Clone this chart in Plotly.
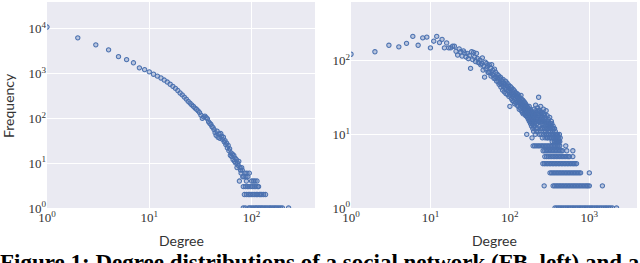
import plotly.graph_objects as go
import math

# ---------------- data ----------------
# Left panel (FB): frequency for degree 1..82
left_counts_head = [11000, 6300, 4400, 3400, 2400, 2050, 1750, 1350, 1230, 1100,
                    970, 880, 800, 720, 650, 580, 520, 470, 420, 370,
                    335, 300, 270, 240, 220, 200, 185, 170, 160, 148,
                    135, 118, 100, 108, 112, 104, 98, 84, 78, 74,
                    66, 62, 56, 48, 42, 52, 38, 45, 36, 46,
                    40, 34, 38, 30, 32, 26, 28, 22, 25, 19,
                    21, 15, 17, 14, 16, 12, 15, 11, 13, 10,
                    12, 8, 10, 9, 11, 4, 8, 7, 6, 8,
                    7, 5]
# Left panel tail: degrees having a given small frequency
left_tail = {
    6: [86, 90, 95],
    5: [84, 88, 92],
    4: [89, 100, 104, 108, 113],
    3: [83, 87, 91, 94, 98, 102, 106, 110, 115, 117],
    2: [85, 89, 93, 96, 99, 103, 107, 111, 114, 119, 122, 126, 131, 137],
    1: [83, 87, 94, 97, 101, 105, 109, 112, 116, 120, 124, 128, 133, 138,
        143, 149, 154, 160, 166, 172, 178, 185, 192, 200, 230],
}

# Right panel: frequency for degree 1..200
right_counts_head = [123, 133, 163, 155, 173, 215, 163, 205, 210, 150,
                     185, 215, 177, 196, 150, 175, 150, 150, 158, 158,
                     135, 120, 145, 133, 116, 137, 128, 113, 126, 107,
                     118, 79, 133, 104, 130, 112, 98, 126, 108, 95,
                     94, 102, 88, 92, 110, 75, 85, 60, 96, 78,
                     92, 83, 70, 69, 88, 71, 80, 62, 89, 66,
                     74, 64, 58, 77, 58, 70, 60, 53, 66, 57,
                     52, 63, 48, 58, 50, 60, 44, 55, 47, 52,
                     40, 56, 45, 50, 38, 48, 42, 53, 36, 46,
                     41, 50, 35, 44, 39, 47, 33, 42, 37, 24,
                     45, 34, 40, 31, 43, 36, 29, 38, 33, 41,
                     28, 35, 30, 39, 26, 34, 31, 37, 27, 33,
                     29, 36, 25, 32, 28, 35, 24, 30, 27, 33,
                     22, 29, 26, 31, 23, 28, 25, 34, 21, 27,
                     24, 30, 20, 26, 23, 29, 19, 25, 22, 28,
                     20, 24, 21, 27, 19, 23, 26, 18, 22, 20,
                     25, 18, 10, 21, 24, 17, 20, 23, 18, 22,
                     16, 19, 21, 17, 24, 15, 20, 18, 22, 16,
                     19, 14, 21, 17, 15, 20, 13, 18, 16, 9,
                     19, 14, 17, 12, 20, 15, 13, 18, 11, 16]
right_mid_deg = [202, 203, 204, 205, 206, 208, 209, 210, 211, 212, 214, 215, 216, 217, 218,
                 220, 221, 222, 223, 224, 226, 227, 228, 229, 230, 232, 233, 234, 235, 237,
                 238, 239, 241, 242, 243, 244, 246, 247, 249, 250, 252, 253, 255, 256, 258,
                 259, 261, 262, 264, 265, 267, 268, 270, 271, 273, 274, 276, 277, 279, 280,
                 282, 283, 285, 286, 288, 289, 291, 292, 294, 295, 297, 298, 301, 303, 305,
                 307, 309, 311, 313, 315, 317, 319, 321, 323, 325, 327, 329, 331, 333, 335,
                 337, 339, 341, 343, 345, 348, 350, 353, 355, 358, 360, 363, 365, 368, 370,
                 373, 375, 378, 380, 383, 385, 388, 390, 393, 395, 398, 400, 404, 408, 412,
                 416, 420, 425, 430]
right_mid_cnt = [22, 17, 13, 14, 19, 18, 10, 15, 25, 21, 12, 16, 11, 20, 14,
                 16, 19, 12, 23, 17, 11, 15, 21, 19, 32, 15, 18, 10, 21, 16,
                 13, 19, 17, 12, 20, 24, 15, 10, 16, 18, 14, 12, 20, 9, 17,
                 12, 15, 16, 19, 22, 10, 11, 14, 15, 18, 19, 12, 9, 16, 17,
                 11, 13, 10, 21, 15, 10, 12, 14, 9, 18, 13, 9, 12, 15, 16,
                 10, 11, 14, 13, 9, 17, 12, 9, 11, 12, 14, 10, 13, 15, 9,
                 14, 10, 8, 12, 11, 9, 13, 10, 9, 12, 10, 8, 12, 9, 8,
                 11, 10, 9, 9, 8, 10, 9, 8, 10, 9, 8, 10, 9, 8, 9,
                 8, 10, 8, 9]
right_tail = {
    7: [196, 205, 215, 226, 236, 248, 258, 270, 282, 295, 308, 322, 336, 350, 366,
        382, 398, 415, 425, 505],
    6: [262, 275, 288, 300, 314, 328, 343, 358, 374, 390, 407, 425, 443, 460, 520, 620],
    5: [275, 290, 305, 320, 336, 352, 368, 385, 403, 421, 440, 460, 480, 502, 525,
        548, 560, 620],
    4: [260, 272, 285, 298, 312, 326, 341, 356, 372, 389, 407, 425, 444, 464, 485,
        507, 530, 554, 580, 606, 633, 660, 690],
    3: [320, 335, 350, 366, 383, 400, 418, 437, 457, 478, 500, 522, 546, 570, 596,
        623, 651, 680, 711, 743, 776, 1000],
    2: [270, 350, 366, 383, 400, 418, 437, 457, 478, 500, 522, 546, 570, 596, 623,
        651, 680, 711, 743, 776, 811, 848, 886, 925, 960, 1000, 1460],
    1: [370, 390, 410, 430, 452, 475, 500, 525, 552, 580, 610, 640, 673, 707, 743,
        780, 820, 862, 905, 950, 1000, 1050, 1100, 1160, 1220, 1280, 1350, 1420,
        1500, 1580, 1660, 1750, 1840, 1950, 2200],
}

x_tick_vals_left = [1, 10, 100]
x_tick_vals_right = [1, 10, 100, 1000]
y_tick_vals_left = [1, 10, 100, 1000, 10000]
y_tick_vals_right = [1, 10, 100]
caption = "Figure 1: Degree distributions of a social network (FB, left) and a"
x_title = "Degree"
y_title = "Frequency"

# ---------------- assemble ----------------
def build(head, extra_deg, extra_cnt, tail):
    xs = list(range(1, len(head) + 1)) + list(extra_deg)
    ys = list(head) + list(extra_cnt)
    for c, degs in tail.items():
        xs += degs
        ys += [c] * len(degs)
    return xs, ys

lx, ly = build(left_counts_head, [], [], left_tail)
rx, ry = build(right_counts_head, right_mid_deg, right_mid_cnt, right_tail)

W, H = 640, 263
mt, mb = 2, 55
ph = H - mt - mb

def pow_text(v):
    return "10<sup>%d</sup>" % round(math.log10(v))

BLUE = "#4C72B0"
marker = dict(size=4.3, color="rgba(76,114,176,0.3)", line=dict(color=BLUE, width=1.05))

fig = go.Figure()
fig.add_trace(go.Scatter(x=lx, y=ly, mode="markers", marker=marker,
                         xaxis="x", yaxis="y", showlegend=False))
fig.add_trace(go.Scatter(x=rx, y=ry, mode="markers", marker=marker,
                         xaxis="x2", yaxis="y2", showlegend=False))

tickfont = dict(family="Liberation Serif", size=13, color="#333333")
common = dict(type="log", showgrid=True, gridcolor="white", gridwidth=1.4,
              zeroline=False, showline=False, ticks="", tickfont=tickfont,
              automargin=False)

fig.update_layout(
    width=W, height=H,
    margin=dict(l=0, r=0, t=mt, b=mb),
    paper_bgcolor="white", plot_bgcolor="#EAEAF2",
    xaxis=dict(common, domain=[47 / W, 315 / W], range=[0, 2.62],
               tickvals=x_tick_vals_left, ticktext=[pow_text(v) for v in x_tick_vals_left],
               anchor="y"),
    yaxis=dict(common, domain=[0, 1], range=[0, 4.6],
               tickvals=y_tick_vals_left, ticktext=[pow_text(v) for v in y_tick_vals_left],
               anchor="x"),
    xaxis2=dict(common, domain=[351 / W, 637 / W], range=[0, 3.6],
                tickvals=x_tick_vals_right, ticktext=[pow_text(v) for v in x_tick_vals_right],
                anchor="y2"),
    yaxis2=dict(common, domain=[0, 1], range=[0, 2.8],
                tickvals=y_tick_vals_right, ticktext=[pow_text(v) for v in y_tick_vals_right],
                anchor="x2"),
)

def py(pix):
    return (H - mb - pix) / ph

title_font = dict(family="Lato", size=14, color="#333333")
fig.add_annotation(text=x_title, x=181 / W, y=py(240), xref="paper", yref="paper",
                   showarrow=False, font=title_font, xanchor="center", yanchor="middle")
fig.add_annotation(text=x_title, x=494 / W, y=py(240), xref="paper", yref="paper",
                   showarrow=False, font=title_font, xanchor="center", yanchor="middle")
fig.add_annotation(text=y_title, x=8 / W, y=py(106), xref="paper", yref="paper",
                   showarrow=False, font=title_font, textangle=-90,
                   xanchor="center", yanchor="middle")
fig.add_annotation(text="<b>" + caption + "</b>", x=0.5, y=py(262), xref="paper", yref="paper",
                   showarrow=False, font=dict(family="Liberation Serif", size=23, color="black"),
                   xanchor="center", yanchor="middle")

fig.write_html("out.html", config={"displayModeBar": False},
               post_script="document.body.style.margin='0';document.body.style.overflow='hidden';")
